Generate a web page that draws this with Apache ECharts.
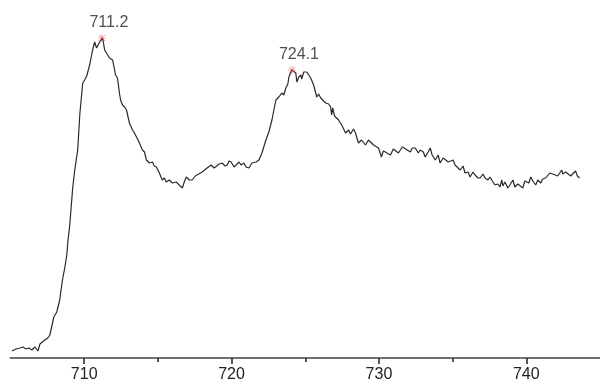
<!DOCTYPE html>
<html>
<head>
    <meta charset="utf-8">
    <title>XPS spectrum</title>
    <script src="https://cdn.jsdelivr.net/npm/echarts@6/dist/echarts.min.js"></script>
    <style>
        html, body { margin: 0; padding: 0; background: #fff; }
    </style>
</head>
<body>
<div id="main" style="width: 600px; height: 383px;"></div>
<script type="text/javascript">
    // binding energy (eV) and intensity (arbitrary units)
    var energy = [
        705.10, 705.37, 705.64, 705.84, 706.05, 706.25, 706.45, 706.66, 706.79, 706.86,
        707.00, 707.13, 707.33, 707.53, 707.67, 707.80, 707.94, 708.14, 708.34, 708.41,
        708.55, 708.68, 708.82, 708.89, 709.02, 709.09, 709.22, 709.36, 709.56, 709.70,
        709.90, 710.03, 710.17, 710.37, 710.57, 710.71, 710.84, 711.05, 711.25, 711.39,
        711.52, 711.72, 711.93, 712.13, 712.26, 712.40, 712.47, 712.60, 712.74, 712.87,
        713.07, 713.28, 713.41, 713.55, 713.75, 713.95, 714.09, 714.22, 714.43, 714.63,
        714.76, 714.90, 715.10, 715.30, 715.44, 715.57, 715.78, 715.98, 716.11, 716.25,
        716.45, 716.66, 716.79, 716.93, 717.13, 717.33, 717.54, 717.67, 718.01, 718.34,
        718.61, 718.82, 718.95, 719.16, 719.36, 719.56, 719.70, 719.83, 719.97, 720.17,
        720.30, 720.51, 720.64, 720.84, 720.98, 721.18, 721.39, 721.66, 721.86, 722.06,
        722.33, 722.53, 722.74, 722.87, 723.01, 723.21, 723.34, 723.41, 723.55, 723.68,
        723.82, 723.89, 724.09, 724.22, 724.36, 724.43, 724.56, 724.70, 724.76, 724.90,
        725.03, 725.10, 725.24, 725.37, 725.57, 725.78, 725.91, 726.05, 726.25, 726.39,
        726.59, 726.72, 726.79, 726.86, 726.99, 727.06, 727.26, 727.47, 727.60, 727.74,
        727.94, 728.07, 728.14, 728.28, 728.41, 728.61, 728.82, 728.95, 729.09, 729.29,
        729.43, 729.63, 729.76, 729.97, 730.17, 730.30, 730.44, 730.64, 730.78, 730.98,
        731.11, 731.32, 731.45, 731.59, 731.72, 731.92, 732.13, 732.26, 732.47, 732.67,
        732.80, 733.01, 733.14, 733.34, 733.48, 733.61, 733.82, 734.02, 734.15, 734.36,
        734.49, 734.70, 734.83, 735.03, 735.17, 735.37, 735.51, 735.71, 735.84, 736.05,
        736.18, 736.39, 736.52, 736.72, 736.86, 737.06, 737.20, 737.40, 737.53, 737.74,
        737.87, 738.07, 738.21, 738.34, 738.41, 738.55, 738.75, 738.89, 739.09, 739.22,
        739.43, 739.56, 739.76, 739.90, 739.97, 740.17, 740.30, 740.44, 740.64, 740.78,
        740.98, 741.11, 741.32, 741.45, 741.59, 741.79, 741.92, 742.13, 742.26, 742.40,
        742.47, 742.67, 742.80, 743.01, 743.14, 743.34, 743.47, 743.61
    ];
    var intensity = [
        7, 9, 10, 11, 9, 10, 8, 11, 13, 7,
        14, 16, 18, 20, 23, 25, 41, 46, 58, 66,
        80, 90, 103, 116, 133, 146, 170, 188, 208, 243,
        275, 278, 282, 293, 308, 316, 310, 316, 320, 308,
        306, 300, 298, 283, 280, 264, 258, 253, 251, 248,
        235, 228, 225, 221, 215, 208, 206, 198, 195, 196,
        192, 191, 185, 178, 180, 176, 178, 175, 177, 176,
        173, 170, 176, 181, 178, 178, 182, 183, 186, 190,
        193, 190, 191, 194, 195, 192, 193, 197, 196, 191,
        193, 196, 193, 195, 191, 190, 195, 196, 198, 205,
        218, 226, 238, 248, 258, 261, 259, 265, 263, 270,
        274, 281, 288, 286, 285, 276, 281, 283, 279, 286,
        288, 286, 283, 280, 273, 261, 264, 260, 257, 255,
        254, 251, 243, 250, 242, 241, 238, 233, 231, 225,
        228, 224, 223, 229, 225, 215, 218, 220, 213, 218,
        216, 213, 211, 210, 201, 207, 206, 204, 203, 209,
        208, 205, 206, 211, 213, 208, 206, 210, 210, 205,
        208, 206, 201, 206, 210, 203, 198, 203, 195, 200,
        201, 196, 195, 198, 193, 190, 188, 192, 185, 186,
        181, 186, 183, 180, 180, 184, 180, 178, 181, 176,
        173, 174, 171, 178, 172, 176, 170, 173, 178, 171,
        174, 175, 170, 177, 178, 175, 181, 177, 173, 178,
        175, 179, 180, 182, 185, 184, 186, 182, 181, 188,
        184, 186, 185, 182, 183, 187, 182, 180
    ];
    var peakEnergy = [711.2, 724.1];
    var peakIntensity = [320, 288];
    var majorTicks = [710, 720, 730, 740];
    var minorTicks = [715, 725, 735];

    var lineData = [];
    for (var i = 0; i < energy.length; i++) {
        lineData.push([energy[i], intensity[i]]);
    }
    var peakData = [];
    for (var j = 0; j < peakEnergy.length; j++) {
        peakData.push([peakEnergy[j], peakIntensity[j]]);
    }

    var myChart = echarts.init(document.getElementById('main'));

    var option = {
        animation: false,
        backgroundColor: '#ffffff',
        grid: {
            left: 10.5,
            width: 592,
            top: 0,
            bottom: 25
        },
        xAxis: [
            {
                type: 'value',
                min: 705,
                max: 745,
                axisLine: { show: true, lineStyle: { color: '#707070', width: 2 } },
                axisTick: {
                    show: true,
                    length: 6,
                    customValues: majorTicks,
                    lineStyle: { color: '#222', width: 1.5 }
                },
                axisLabel: {
                    margin: 9,
                    color: '#222',
                    fontSize: 16,
                    fontFamily: 'Liberation Sans, Arial, sans-serif',
                    customValues: majorTicks
                },
                splitLine: { show: false }
            },
            {
                type: 'value',
                min: 705,
                max: 745,
                position: 'bottom',
                axisLine: { show: false },
                axisTick: {
                    show: true,
                    length: 4,
                    customValues: minorTicks,
                    lineStyle: { color: '#222', width: 1.5 }
                },
                axisLabel: { show: false },
                splitLine: { show: false }
            }
        ],
        yAxis: {
            type: 'value',
            min: 0,
            max: 358,
            show: false,
            splitLine: { show: false }
        },
        series: [
            {
                type: 'line',
                data: lineData,
                showSymbol: false,
                symbol: 'none',
                lineStyle: { color: '#2a2a2a', width: 1.2 },
                silent: true,
                z: 2
            },
            {
                type: 'scatter',
                data: peakData,
                symbol: 'path://M4.5,0L5.2,0L5.2,9.7L4.5,9.7Z M0,4.5L9.7,4.5L9.7,5.2L0,5.2Z M1.3,0.8L8.9,8.4L8.4,8.9L0.8,1.3Z M8.4,0.8L8.9,1.3L1.3,8.9L0.8,8.4Z',
                symbolSize: 8,
                itemStyle: { color: '#e8303a' },
                label: {
                    show: true,
                    position: 'top',
                    distance: 5,
                    offset: [7, 2],
                    color: '#222',
                    fontSize: 16,
                    fontFamily: 'Liberation Sans, Arial, sans-serif',
                    formatter: function (p) { return p.value[0].toFixed(1); }
                },
                z: 3
            }
        ]
    };

    myChart.setOption(option);
</script>
</body>
</html>
